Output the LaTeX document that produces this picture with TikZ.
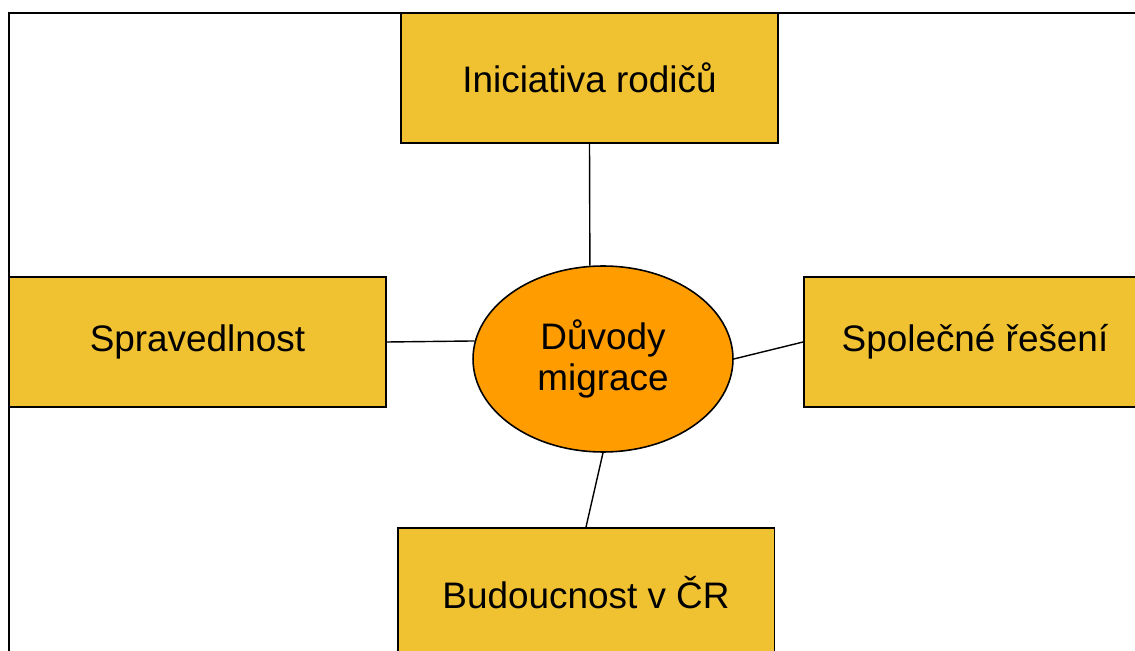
\documentclass[tikz,border=0pt]{standalone}
\usepackage{fontspec}
\setmainfont{Liberation Sans}
\usetikzlibrary{shapes.geometric}
\definecolor{boxyellow}{HTML}{F0C232}
\definecolor{migorange}{HTML}{FF9C00}
\tikzset{
    topic/.style={draw, line width=1.1pt, fill=boxyellow, minimum width=7.54cm, minimum height=2.6cm, inner sep=0pt, font=\fontsize{21}{25}\selectfont},
    core/.style={ellipse, draw, line width=0.9pt, fill=migorange, minimum width=5.2cm, minimum height=3.72cm, inner sep=0pt, align=center, font=\fontsize{21}{23.8}\selectfont},
    link/.style={line width=0.8pt}
}

\begin{document}
\begin{tikzpicture}[x=0.02cm, y=-0.02cm]
    \useasboundingbox (0, 0) rectangle (1135, 651);
    \clip (0, 0) rectangle (1135, 651);
    % frame
    \draw[line width=1pt](1135, 13)--(9, 13)--(9, 651);
    \node[core] (duvody) at (603, 359) {Důvody\\migrace};
    \node[topic] (rodice) at (589.5, 78) {Iniciativa rodičů};
    \node[topic] (spravedlnost) at (197.5, 342) {Spravedlnost};
    \node[topic, minimum width=6.84cm] (reseni) at (975, 342) {Společné řešení};
    \node[topic] (budoucnost) at (586, 593) {Budoucnost v ČR};
    \draw[link](rodice.south)--(duvody.98);
    \draw[link](spravedlnost.east)--(duvody.172);
    \draw[link](reseni.west)--(duvody.east);
    \draw[link](budoucnost.north)--(duvody.south);
\end{tikzpicture}
\end{document}
